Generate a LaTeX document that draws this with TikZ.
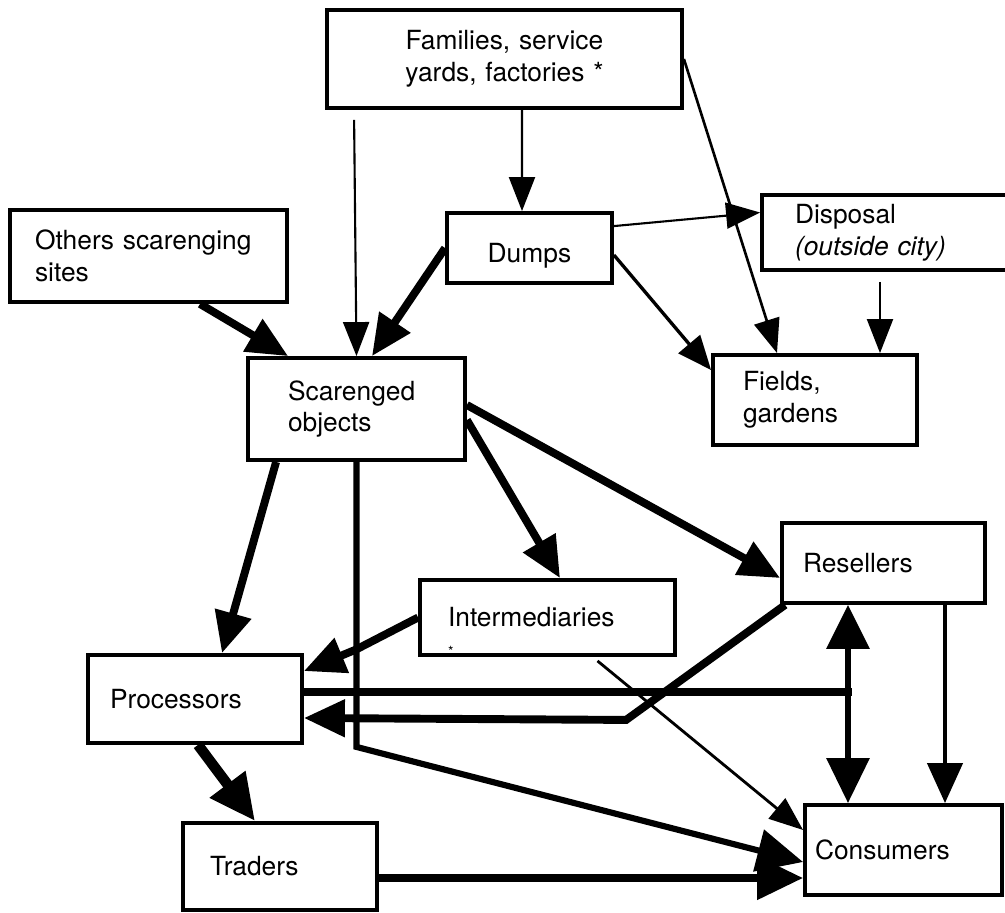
\documentclass[tikz,border=0pt]{standalone}
\usepackage{fontspec}
\setmainfont{TeX Gyre Heros}
\usetikzlibrary{arrows.meta, calc}

\begin{document}
\begin{tikzpicture}[x=0.02cm, y=-0.02cm,
	box/.style={draw, line width=2.2pt, align=left, inner ysep=0pt, font=\fontsize{15}{18}\selectfont},
	weak/.style={line width=1.2pt, -{Triangle[length=0.68cm, width=0.52cm]}},
	medium/.style={line width=1.9pt, -{Triangle[length=0.68cm, width=0.56cm]}},
	strong/.style={line width=4.5pt, -{Triangle[length=0.82cm, width=0.72cm]}},
	bigtip/.style={-{Triangle[length=0.92cm, width=0.84cm]}}]
	%\draw [thin, help lines] (0,0) grid[step=50] (1005,913);
	\useasboundingbox (0,0) rectangle (1005,913);
	\node[box, align=center, text width=6.5cm, inner xsep=0.3cm, minimum height=1.96cm] (fam) at (504.5,59) {Families, service\\yards, factories *};
	\node[box, text width=4.54cm, inner xsep=0.5cm, minimum height=1.84cm] (oth) at (148.5,256) {Others scarenging\\sites};
	\node[box, align=center, text width=2.5cm, inner xsep=0.4cm, text height=0.7cm, minimum height=1.4cm] (dmp) at (529.5,248) {Dumps};
	\node[box, text width=4.28cm, inner xsep=0.66cm, minimum height=1.5cm] (dis) at (902,232.5) {Disposal\\\textit{(outside city)}};
	\node[box, text width=2.88cm, inner xsep=0.6cm, minimum height=1.8cm] (fld) at (815,400) {Fields,\\gardens};
	\node[box, text width=2.74cm, inner xsep=0.8cm, minimum height=2.04cm] (scv) at (356.5,409) {Scarenged\\objects};
	\node[box, text width=3.22cm, inner xsep=0.42cm, minimum height=1.6cm] (res) at (883.5,563) {Resellers};
	\node[box, text width=3.98cm, inner xsep=0.56cm, minimum height=1.5cm] (itm) at (547.5,617.5) {\rlap{\raisebox{-0.6cm}[0pt][0pt]{\footnotesize *}}Intermediaries};
	\node[box, text width=3.4cm, inner xsep=0.44cm, minimum height=1.76cm] (pro) at (195,699) {Processors};
	\node[box, text width=2.8cm, inner xsep=0.54cm, minimum height=1.74cm] (trd) at (280,866.5) {Traders};
	\node[box, text width=3.54cm, inner xsep=0.2cm, minimum height=1.8cm] (con) at (903.5,850) {Consumers};
	\coordinate (dbl) at ($(res.south)+(-35.5,0)$);

	\draw[weak] ($(fam.south)+(17.5,0)$) -- ($(dmp.north)+(-7.5,0)$);
	\draw[weak] ($(fam.south west)+(29,10)$) -- (scv.north);
	\draw[weak, line width=1.5pt] (fam.east) -- ($(fld.north)+(-38,0)$);
	\draw[weak] ($(dmp.north east)+(0,15)$) -- ($(dis.west)+(0,-20)$);
	\draw[medium] ($(dmp.east)+(0,7)$) -- ($(fld.west)+(0,-30)$);
	\draw[weak] ($(dis.south)+(-22,10)$) -- ($(fld.north)+(65,0)$);
	\draw[strong] (dmp.west) -- ($(scv.north)+(15.5,0)$);
	\draw[strong] ($(oth.south)+(51.5,0)$) -- ($(scv.north west)+(42,0)$);
	\draw[strong] ($(scv.south west)+(30,0)$) -- ($(pro.north)+(27,0)$);
	\draw[strong] ($(scv.east)+(0,11)$) -- ($(itm.north)+(12.5,0)$);
	\draw[strong] ($(scv.east)+(0,-4)$) -- ($(res.west)+(0,15)$);
	\draw[strong, line width=3.5pt, bigtip] (scv.south) -- ++(0,285) -- ($(con.west)+(0,12)$);
	\draw[strong] (itm.west) -- ++(-62,32) -- ($(pro.north east)+(0,18)$);
	\draw[line width=4.5pt] ($(pro.east)+(0,-7)$) coordinate (p1) -- ($(p1 -| dbl)+(4,0)$);
	\draw[strong] ($(res.south west)+(5,0)$) -- ++(-159,115) -- ($(pro.east)+(0,19)$);
	\draw[line width=3.5pt, {Triangle[length=0.88cm, width=0.84cm]}-{Triangle[length=0.9cm, width=0.84cm]}] (dbl) -- (dbl |- con.north);
	\draw[line width=2.5pt, -{Triangle[length=0.8cm, width=0.7cm]}] ($(res.south)+(61.5,0)$) -- ($(con.north)+(41.5,0)$);
	\draw[weak, line width=1.6pt] ($(itm.south)+(50,4)$) -- ($(con.west)+(0,-20)$);
	\draw[strong, line width=6pt, bigtip] ($(pro.south)+(3,0)$) -- ($(trd.north)+(-25,0)$);
	\draw[strong, bigtip] ($(trd.east)+(0,11.5)$) -- ($(con.west)+(0,28)$);
\end{tikzpicture}
\end{document}
